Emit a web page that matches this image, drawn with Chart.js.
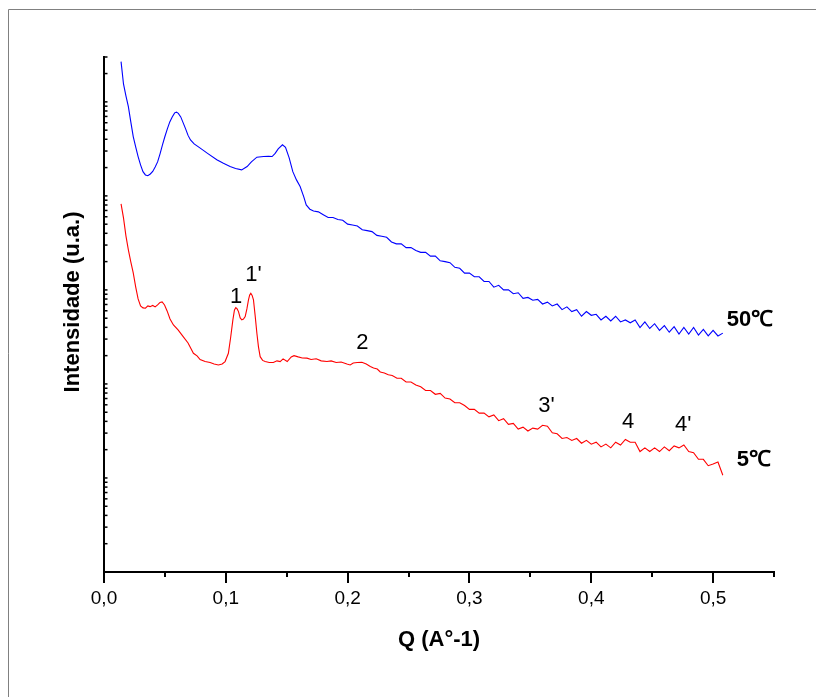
<!DOCTYPE html>
<html>
<head>
<meta charset="utf-8">
<script src="https://cdn.jsdelivr.net/npm/chart.js@4/dist/chart.umd.min.js"></script>
<style>
    html, body { margin: 0; padding: 0; background: #fff; }
    #wrap { position: relative; width: 816px; height: 697px; }
</style>
</head>
<body>
<div id="wrap"><canvas id="saxs"></canvas></div>
<script>
// ---------- dados ----------
// Q (A^-1) e intensidade (u.a.) - 50 C
const qBlue = [
    0.014, 0.016, 0.018, 0.020, 0.022, 0.024, 0.026, 0.028, 0.030, 0.032,
    0.034, 0.036, 0.038, 0.040, 0.042, 0.044, 0.046, 0.048, 0.050, 0.052,
    0.054, 0.056, 0.058, 0.0595, 0.061, 0.063, 0.065, 0.067, 0.069, 0.071,
    0.074, 0.079, 0.085, 0.0926, 0.098, 0.1035, 0.108, 0.113, 0.1175, 0.121,
    0.1255, 0.131, 0.135, 0.138, 0.1405, 0.143, 0.1465, 0.149, 0.152, 0.155,
    0.158, 0.161, 0.164, 0.166, 0.169,
    0.172, 0.176, 0.180, 0.184, 0.188, 0.192, 0.196, 0.200, 0.204, 0.208,
    0.212, 0.216, 0.220, 0.224, 0.228, 0.232, 0.236, 0.240, 0.244, 0.248,
    0.252, 0.256, 0.260, 0.264, 0.268, 0.272, 0.276, 0.280, 0.284, 0.288,
    0.292, 0.296, 0.300, 0.304, 0.308, 0.312, 0.316, 0.320, 0.324, 0.328,
    0.332, 0.336, 0.340, 0.344, 0.348, 0.352, 0.356, 0.360, 0.364, 0.368,
    0.372, 0.376, 0.380, 0.384, 0.388, 0.392, 0.396, 0.400, 0.404, 0.408,
    0.412, 0.416, 0.420, 0.424, 0.428, 0.432, 0.436, 0.440, 0.444, 0.448,
    0.452, 0.456, 0.460, 0.464, 0.468, 0.472, 0.476, 0.480, 0.484, 0.488,
    0.492, 0.496, 0.500, 0.504, 0.508
];
const iBlue = [
    268000, 155000, 116000, 89100, 61200, 42800, 33200, 26200, 21400, 18100,
    16700, 16400, 17100, 18200, 20300, 23000, 28000, 34900, 42800, 51600,
    61200, 69200, 76400, 77700, 75400, 69200, 59800, 51600, 44000, 39400,
    35700, 32200, 28300, 24200, 22200, 20500, 19600, 18900, 20500, 23000,
    25800, 26200, 26300, 26200, 28300, 31600, 34900, 32800, 25400, 18100,
    14800, 12600, 9760, 8020, 7220,
    6920, 6760, 6310, 5890, 5890, 5620, 5500, 5010, 4900, 4790,
    4370, 4270, 4170, 3800, 3720, 3630, 3240, 3090, 3090, 2820,
    2820, 2630, 2510, 2510, 2290, 2290, 2040, 2000, 1950, 1740,
    1700, 1510, 1510, 1380, 1380, 1230, 1230, 1070, 1120, 1000,
    1000, 912, 933, 813, 832, 776, 794, 708, 741, 676,
    708, 617, 661, 589, 617, 525, 589, 537, 550, 479,
    525, 468, 525, 457, 479, 447, 479, 398, 457, 389,
    437, 372, 417, 355, 407, 339, 398, 339, 398, 331,
    380, 324, 372, 324, 347
];

// Q (A^-1) e intensidade (u.a.) - 5 C
const qRed = [
    0.014, 0.016, 0.018, 0.020, 0.022, 0.024, 0.026, 0.028, 0.030, 0.032,
    0.034, 0.036, 0.0378, 0.040, 0.042, 0.044, 0.046, 0.0477, 0.0497, 0.0518,
    0.0542, 0.057, 0.0608, 0.065, 0.069, 0.0734, 0.0764, 0.0789, 0.083, 0.0871,
    0.0904, 0.0939, 0.097, 0.0994, 0.1021, 0.1039, 0.1058, 0.1071, 0.1082, 0.1093,
    0.1104, 0.1118, 0.1131, 0.1145, 0.1159, 0.1173, 0.1186, 0.1196, 0.1205, 0.1216,
    0.1227, 0.1241, 0.1255, 0.1268, 0.1282, 0.1302, 0.1323, 0.1356, 0.139, 0.142,
    0.1446, 0.147, 0.1504, 0.1537, 0.156, 0.1594, 0.1627, 0.1666, 0.170, 0.1742,
    0.1783, 0.183, 0.1865, 0.1906, 0.1947, 0.1994, 0.2021, 0.2046, 0.2079, 0.2117,
    0.2153, 0.2186, 0.2213, 0.2243, 0.2268, 0.2301, 0.2334, 0.2366, 0.2405,
    0.244, 0.248, 0.252, 0.256, 0.260, 0.264, 0.268, 0.272, 0.276, 0.280,
    0.284, 0.288, 0.292, 0.296, 0.300, 0.304, 0.308, 0.312, 0.316, 0.320,
    0.324, 0.328, 0.332, 0.336, 0.340, 0.344, 0.348, 0.352, 0.356, 0.360,
    0.364, 0.368, 0.372, 0.376, 0.380, 0.384, 0.388, 0.392, 0.396, 0.400,
    0.404, 0.408, 0.412, 0.416, 0.420, 0.424, 0.428, 0.432, 0.436, 0.440,
    0.444, 0.448, 0.452, 0.456, 0.460, 0.464, 0.468, 0.472, 0.476, 0.480,
    0.484, 0.488, 0.492, 0.496, 0.500, 0.504, 0.508
];
const iRed = [
    8220, 5830, 3750, 2670, 1990, 1520, 1080, 802, 676, 644,
    638, 676, 664, 684, 659, 692, 736, 745, 692, 598,
    491, 424, 375, 318, 273, 212, 199, 182, 173, 169,
    163, 159, 163, 173, 212, 308, 480, 613, 648, 628,
    588, 504, 480, 491, 520, 628, 783, 885, 923, 874,
    783, 529, 346, 248, 195, 178, 173, 169, 169, 176,
    173, 185, 173, 194, 200, 194, 189, 188, 182, 185,
    176, 173, 176, 169, 171, 163, 159, 167, 169, 170,
    163, 153, 148, 144, 134, 131, 125, 123, 115,
    115, 105, 105, 97.7, 93.3, 85.1, 85.1, 77.6, 79.4, 70.8,
    69.2, 63.1, 63.1, 58.9, 53.7, 53.7, 49.0, 49.0, 44.7, 46.8,
    40.7, 42.7, 37.2, 38.0, 33.1, 34.7, 31.6, 33.9, 33.1, 36.3,
    35.5, 30.2, 29.5, 26.3, 26.9, 25.1, 26.3, 23.4, 25.1, 22.9,
    24.0, 21.4, 22.9, 20.9, 24.0, 22.4, 25.7, 24.0, 24.0, 19.1,
    20.9, 19.1, 20.9, 19.1, 21.4, 19.5, 21.9, 20.9, 22.4, 19.1,
    18.6, 15.8, 15.8, 13.5, 14.1, 14.8, 10.7
];

// Eixo X
const xTickValues = [0, 0.05, 0.1, 0.15, 0.2, 0.25, 0.3, 0.35, 0.4, 0.45, 0.5, 0.55];
const xTickLabels = ['0,0', '0,1', '0,2', '0,3', '0,4', '0,5'];

// Picos (rótulo, Q, intensidade)
const peakText = ['1', "1'", '2', "3'", '4', "4'"];
const peakQ = [0.1085, 0.1227, 0.212, 0.3632, 0.4303, 0.4755];
const peakI = [843, 1445, 273, 58.3, 39.7, 36.6];

// Temperaturas
const seriesNames = ['50\u2103', '5\u2103'];
const nameQ = [0.5302, 0.5335];
const nameI = [480, 15.5];
//-----------------------------------------------//

const FONT = '"Liberation Sans", Arial, sans-serif';

// ticks do eixo log: 1..9 x 10^k
const yTickValues = [];
for (let k = 0; k <= 5; k++) {
    for (let m = 1; m <= 9; m++) {
        const v = m * Math.pow(10, k);
        if (v <= 300000) yTickValues.push(v);
    }
}

// Marcas dos eixos, rótulos e moldura
const decor = {
    id: 'decor',
    afterDraw(chart) {
        const ctx = chart.ctx;
        const sx = chart.scales.x;
        const sy = chart.scales.y;
        const area = chart.chartArea;
        ctx.save();

        // moldura
        ctx.strokeStyle = '#808080';
        ctx.lineWidth = 1;
        ctx.beginPath();
        ctx.moveTo(8.5, chart.height);
        ctx.lineTo(8.5, 9.5);
        ctx.lineTo(chart.width, 9.5);
        ctx.stroke();

        // ticks X (para fora)
        ctx.strokeStyle = '#000';
        ctx.lineWidth = 2;
        xTickValues.forEach((v, i) => {
            const px = Math.round(sx.getPixelForValue(v));
            const len = i % 2 === 0 ? 11 : 5;
            ctx.beginPath();
            ctx.moveTo(px, area.bottom);
            ctx.lineTo(px, area.bottom + len);
            ctx.stroke();
        });

        // ticks Y (para dentro)
        ctx.lineWidth = 1.5;
        sy.ticks.forEach(t => {
            const py = sy.getPixelForValue(t.value);
            ctx.beginPath();
            ctx.moveTo(area.left, py);
            ctx.lineTo(area.left + 3.5, py);
            ctx.stroke();
        });

        // rótulos dos picos
        ctx.fillStyle = '#000';
        ctx.textAlign = 'center';
        ctx.textBaseline = 'middle';
        ctx.font = '22px ' + FONT;
        peakText.forEach((txt, i) => {
            ctx.fillText(txt, sx.getPixelForValue(peakQ[i]), sy.getPixelForValue(peakI[i]));
        });

        ctx.font = 'bold 22px ' + FONT;
        seriesNames.forEach((txt, i) => {
            ctx.fillText(txt, sx.getPixelForValue(nameQ[i]), sy.getPixelForValue(nameI[i]));
        });

        // título do eixo Y
        ctx.translate(73, 302);
        ctx.rotate(-Math.PI / 2);
        ctx.font = 'bold 22px ' + FONT;
        ctx.fillText('Intensidade (u.a.)', 0, 0);
        ctx.restore();
    }
};

new Chart(document.getElementById('saxs'), {
    type: 'line',
    data: {
        datasets: [{
            label: '50\u2103',
            data: qBlue.map((q, i) => ({ x: q, y: iBlue[i] })),
            borderColor: '#0000ff',
            borderWidth: 1.1,
            pointRadius: 0,
            tension: 0,
        }, {
            label: '5\u2103',
            data: qRed.map((q, i) => ({ x: q, y: iRed[i] })),
            borderColor: '#ff0000',
            borderWidth: 1.1,
            pointRadius: 0,
            tension: 0,
        }],
    },
    options: {
        responsive: true,
        maintainAspectRatio: false,
        animation: false,
        layout: {
            padding: { left: 0, right: 42, top: 57, bottom: 0 }
        },
        plugins: {
            legend: { display: false },
            tooltip: { enabled: false }
        },
        scales: {
            x: {
                type: 'linear',
                min: 0,
                max: 0.55,
                afterBuildTicks: scale => {
                    scale.ticks = xTickValues.map(v => ({ value: v }));
                },
                afterFit: scale => { scale.height = 125; },
                grid: { display: false, drawTicks: false },
                border: { display: true, color: '#000', width: 2 },
                ticks: {
                    autoSkip: false,
                    maxRotation: 0,
                    padding: 15,
                    color: '#000',
                    font: { family: FONT, size: 19 },
                    callback: (value, index) => index % 2 === 0 ? xTickLabels[index / 2] : ''
                },
                title: {
                    display: true,
                    text: 'Q (A\u00b0-1)',
                    color: '#000',
                    font: { family: FONT, size: 22, weight: 'bold' },
                    padding: { top: 0, bottom: 44 }
                }
            },
            y: {
                type: 'logarithmic',
                min: 1,
                max: 300000,
                afterBuildTicks: scale => {
                    scale.ticks = yTickValues.map(v => ({ value: v }));
                },
                afterFit: scale => { scale.width = 104; },
                grid: { display: false, drawTicks: false },
                border: { display: true, color: '#000', width: 2 },
                ticks: { display: false }
            }
        }
    },
    plugins: [decor]
});
</script>
</body>
</html>
